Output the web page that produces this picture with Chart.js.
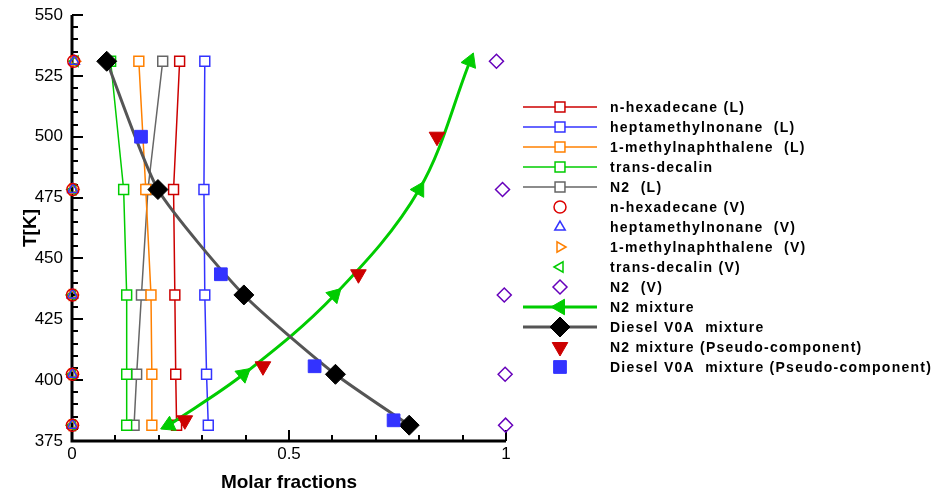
<!DOCTYPE html>
<html>
<head>
<meta charset="utf-8">
<script src="https://cdn.jsdelivr.net/npm/chart.js@4.4.1/dist/chart.umd.min.js"></script>
<style>
html, body { margin: 0; padding: 0; background: #fff; }
</style>
</head>
<body>
<canvas id="vle" width="937" height="494"></canvas>
<script>
// Temperatures of the flash calculations [K]
var temps = [531, 478.3, 435, 402.4, 381.5];

// Liquid phase molar fractions
var hexadecaneL = [0.248, 0.234, 0.237, 0.239, 0.241];
var heptamethylL = [0.306, 0.304, 0.306, 0.310, 0.314];
var methylnaphL = [0.154, 0.170, 0.182, 0.184, 0.184];
var decalinL = [0.089, 0.119, 0.126, 0.126, 0.126];
var n2L = [0.209, 0.175, 0.160, 0.149, 0.143];

// Vapour phase molar fractions
var hexadecaneV = [0.004, 0.002, 0.001, 0.001, 0.001];
var heptamethylV = [0.005, 0.002, 0.001, 0.001, 0.001];
var methylnaphV = [0.006, 0.002, 0.001, 0.001, 0.001];
var decalinV = [0.007, 0.002, 0.001, 0.001, 0.001];
var n2V = [0.978, 0.992, 0.996, 0.998, 0.999];

// Mixtures
var n2Mix = [0.917, 0.800, 0.605, 0.395, 0.223];
var dieselMix = [0.080, 0.198, 0.396, 0.607, 0.777];

// Pseudo-component results
var tempsPseudo = [500, 443.5, 405.7, 383.5];
var n2Pseudo = [0.841, 0.660, 0.440, 0.260];
var dieselPseudo = [0.159, 0.343, 0.559, 0.741];

function pts(xs, ys) {
    return xs.map(function (x, i) { return { x: x, y: ys[i] }; });
}

var FONT = '"Liberation Sans", Arial, sans-serif';

function liquid(label, color, xs) {
    return {
        label: label,
        data: pts(xs, temps),
        showLine: true,
        borderColor: color,
        borderWidth: 1.5,
        pointStyle: 'rect',
        pointRadius: 7,
        pointBorderWidth: 1.5,
        pointBorderColor: color,
        pointBackgroundColor: '#fff',
        backgroundColor: '#fff',
        order: 10
    };
}

function vapour(label, color, xs, style, rot, r) {
    return {
        label: label,
        data: pts(xs, temps),
        showLine: false,
        pointStyle: style,
        pointRotation: rot,
        pointRadius: r,
        pointBorderWidth: 1.5,
        pointBorderColor: color,
        pointBackgroundColor: 'rgba(0,0,0,0)',
        borderColor: color,
        backgroundColor: 'rgba(0,0,0,0)',
        order: 9
    };
}

var datasets = [
    liquid("n-hexadecane (L)", "#cc0000", hexadecaneL),
    liquid("heptamethylnonane  (L)", "#3333ff", heptamethylL),
    liquid("1-methylnaphthalene  (L)", "#ff8000", methylnaphL),
    liquid("trans-decalin", "#00cc00", decalinL),
    liquid("N2  (L)", "#666666", n2L),
    vapour("n-hexadecane (V)", "#dd0000", hexadecaneV, 'circle', 0, 6),
    vapour("heptamethylnonane  (V)", "#3333ff", heptamethylV, 'triangle', 0, 6),
    vapour("1-methylnaphthalene  (V)", "#ff8000", methylnaphV, 'triangle', 90, 6),
    vapour("trans-decalin (V)", "#00cc00", decalinV, 'triangle', -90, 6),
    vapour("N2  (V)", "#6600bb", n2V, 'rectRot', 0, 7),
    {
        label: "N2 mixture",
        data: pts(n2Mix, temps),
        showLine: true,
        tension: 0.35,
        borderColor: "#00cc00",
        borderWidth: 3,
        pointStyle: 'triangle',
        pointRotation: [22, 30, 45, 50, -115],
        legendRotation: -90,
        pointRadius: 9,
        pointBorderWidth: 1,
        pointBorderColor: "#00cc00",
        pointBackgroundColor: "#00cc00",
        backgroundColor: "#00cc00",
        order: 6
    },
    {
        label: "Diesel V0A  mixture",
        data: pts(dieselMix, temps),
        showLine: true,
        tension: 0.2,
        borderColor: "#555555",
        borderWidth: 3,
        pointStyle: 'rectRot',
        pointRadius: 10,
        pointBorderWidth: 1,
        pointBorderColor: "#000",
        pointBackgroundColor: "#000",
        backgroundColor: "#000",
        order: 5
    },
    {
        label: "N2 mixture (Pseudo-component)",
        data: pts(n2Pseudo, tempsPseudo),
        showLine: false,
        pointStyle: 'triangle',
        pointRotation: 180,
        pointRadius: 9,
        pointBorderWidth: 1,
        pointBorderColor: "#cc0000",
        pointBackgroundColor: "#cc0000",
        borderColor: "#cc0000",
        backgroundColor: "#cc0000",
        order: 3
    },
    {
        label: "Diesel V0A  mixture (Pseudo-component)",
        data: pts(dieselPseudo, tempsPseudo),
        showLine: false,
        pointStyle: 'rect',
        pointRadius: 9,
        pointBorderWidth: 1,
        pointBorderColor: "#3333ff",
        pointBackgroundColor: "#3333ff",
        borderColor: "#3333ff",
        backgroundColor: "#3333ff",
        order: 2
    }
];

// Axis lines with inward ticks
var axesPlugin = {
    id: 'axesInward',
    beforeDatasetsDraw: function (chart) {
        var ctx = chart.ctx, xs = chart.scales.x, ys = chart.scales.y, a = chart.chartArea;
        ctx.save();
        ctx.strokeStyle = '#000';
        ctx.lineWidth = 2;
        for (var t = 375; t <= 550; t += 5) {
            var py = Math.round(ys.getPixelForValue(t));
            var len = (t % 25 === 0) ? 11 : 6;
            ctx.beginPath();
            ctx.moveTo(a.left, py);
            ctx.lineTo(a.left + len, py);
            ctx.stroke();
        }
        for (var i = 0; i <= 10; i++) {
            var px = Math.round(xs.getPixelForValue(i / 10));
            var l = (i % 5 === 0) ? 11 : 6;
            ctx.beginPath();
            ctx.moveTo(px, a.bottom);
            ctx.lineTo(px, a.bottom - l);
            ctx.stroke();
        }
        ctx.lineWidth = 3;
        ctx.beginPath();
        ctx.moveTo(a.left, a.top);
        ctx.lineTo(a.left, a.bottom);
        ctx.lineTo(a.right, a.bottom);
        ctx.stroke();
        ctx.restore();
    }
};

// Legend on the right, built from the datasets
var legendPlugin = {
    id: 'sideLegend',
    afterDraw: function (chart) {
        var ctx = chart.ctx;
        ctx.save();
        chart.data.datasets.forEach(function (ds, i) {
            var y = 107 + i * 20;
            if (ds.showLine) {
                ctx.strokeStyle = ds.borderColor;
                ctx.lineWidth = ds.borderWidth;
                ctx.beginPath();
                ctx.moveTo(523, y);
                ctx.lineTo(597, y);
                ctx.stroke();
            }
            ctx.fillStyle = ds.pointBackgroundColor;
            ctx.strokeStyle = ds.pointBorderColor;
            ctx.lineWidth = ds.pointBorderWidth;
            var rot = ds.legendRotation !== undefined ? ds.legendRotation : ds.pointRotation;
            Chart.helpers.drawPoint(ctx, {
                pointStyle: ds.pointStyle,
                rotation: rot || 0,
                radius: ds.pointRadius,
                borderWidth: ds.pointBorderWidth
            }, 560, y);
            ctx.fillStyle = '#000';
            ctx.font = 'bold 14px ' + FONT;
            ctx.letterSpacing = '1.25px';
            ctx.textBaseline = 'middle';
            ctx.textAlign = 'left';
            ctx.fillText(ds.label, 610, y + 1);
        });
        ctx.restore();
    }
};

new Chart("vle", {
    type: "scatter",
    data: { datasets: datasets },
    options: {
        responsive: false,
        animation: false,
        layout: { padding: { top: 15, right: 431, left: 0, bottom: 0 } },
        plugins: {
            legend: { display: false },
            tooltip: { enabled: false }
        },
        elements: { line: { fill: false } },
        datasets: { scatter: { clip: false } },
        scales: {
            x: {
                type: 'linear',
                min: 0,
                max: 1,
                border: { display: false },
                grid: { display: false, drawTicks: false },
                ticks: {
                    stepSize: 0.5,
                    padding: 3,
                    color: '#000',
                    font: { family: FONT, size: 17 },
                    callback: function (v) { return String(v); }
                },
                title: {
                    display: true,
                    text: 'Molar fractions',
                    color: '#000',
                    padding: { top: 0, bottom: 0 },
                    font: { family: FONT, size: 19, weight: 'bold' }
                },
                afterFit: function (scale) {
                    scale.height = 53;
                    scale.paddingLeft = 0;
                    scale.paddingRight = 0;
                }
            },
            y: {
                type: 'linear',
                min: 375,
                max: 550,
                border: { display: false },
                grid: { display: false, drawTicks: false },
                ticks: {
                    stepSize: 25,
                    padding: 9,
                    color: '#000',
                    font: { family: FONT, size: 17 }
                },
                title: {
                    display: true,
                    text: 'T[K]',
                    color: '#000',
                    padding: { top: 19, bottom: 0 },
                    font: { family: FONT, size: 19, weight: 'bold' }
                },
                afterFit: function (scale) {
                    scale.width = 72;
                    scale.paddingTop = 0;
                    scale.paddingBottom = 0;
                }
            }
        }
    },
    plugins: [axesPlugin, legendPlugin]
});
</script>
</body>
</html>
